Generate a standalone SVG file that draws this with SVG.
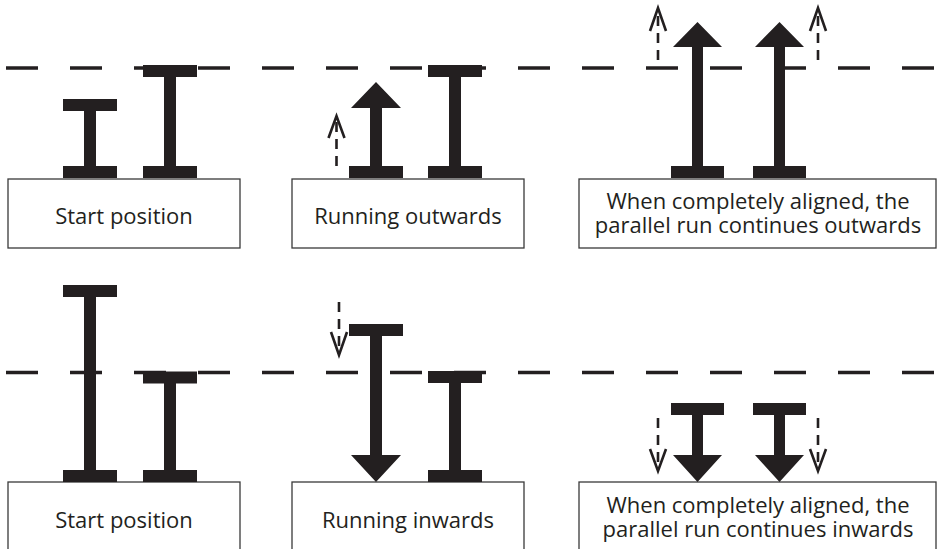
<svg xmlns="http://www.w3.org/2000/svg" width="937" height="549" viewBox="0 0 937 549">
<defs>
<style>
.bg{fill:#ffffff}
.box{fill:#ffffff;stroke:#3a3a3a;stroke-width:1.3}
.beam{fill:#231f20}
.lbl{font-family:"Open Sans","Noto Sans","Liberation Sans",sans-serif;font-size:22px;fill:#231f20;text-anchor:middle}
.ref{stroke:#231f20;stroke-width:3.5;stroke-dasharray:32 32;fill:none}
.mv{stroke:#231f20;stroke-width:2.6;stroke-dasharray:10 7;fill:none}
.chev{stroke:#231f20;stroke-width:2.6;fill:none;stroke-linejoin:miter}
</style>
</defs>
<rect class="bg" x="0" y="0" width="937" height="549"/>

<g id="guides">
<line class="ref" x1="6" y1="68" x2="937" y2="68"/>
<line class="ref" x1="6" y1="372.5" x2="937" y2="372.5"/>
</g>

<!-- Top row -->
<g id="box-start-top">
<rect class="box" x="8" y="179" width="232" height="69"/>
<text class="lbl" x="124" y="224">Start position</text>
</g>
<g id="beam-top-1">
<path class="beam" d="M63,99H117V111H96V166H117V178H63V166H84V111H63Z"/>
</g>
<g id="beam-top-2">
<path class="beam" d="M143,65H197V77H176V166H197V178H143V166H164V77H143Z"/>
</g>

<g id="box-outwards">
<rect class="box" x="292" y="179" width="232" height="69"/>
<text class="lbl" x="408" y="224">Running outwards</text>
</g>
<g id="arrow-out-1">
<path class="beam" d="M349,166H370V108H351L376,82L401,108H382V166H403V178H349Z"/>
</g>
<g id="beam-out-2">
<path class="beam" d="M428,65H482V77H461V166H482V178H428V166H449V77H428Z"/>
</g>

<g id="box-aligned-out">
<rect class="box" x="579" y="179" width="357" height="69"/>
<text class="lbl"><tspan x="758" y="209">When completely aligned, the</tspan><tspan x="758" y="233">parallel run continues outwards</tspan></text>
</g>
<g id="arrow-aligned-out-1">
<path class="beam" d="M671,166H692V47H673L697.5,22L722,47H703V166H724V178H671Z"/>
</g>
<g id="arrow-aligned-out-2">
<path class="beam" d="M753,166H774V47H755L779.5,22L804,47H785V166H806V178H753Z"/>
</g>

<!-- Bottom row -->
<g id="box-start-bottom">
<rect class="box" x="8" y="482" width="232" height="80"/>
<text class="lbl" x="124" y="528">Start position</text>
</g>
<g id="beam-bot-1">
<path class="beam" d="M63,285H117V297H96V470H117V482H63V470H84V297H63Z"/>
</g>
<g id="beam-bot-2">
<path class="beam" d="M143,371.5H197V383.5H176V470H197V482H143V470H164V383.5H143Z"/>
</g>

<g id="box-inwards">
<rect class="box" x="292" y="482" width="232" height="80"/>
<text class="lbl" x="408" y="528">Running inwards</text>
</g>
<g id="arrow-in-1">
<path class="beam" d="M349,324H403V336H382V455H401L376,482L351,455H370V336H349Z"/>
</g>
<g id="beam-in-2">
<path class="beam" d="M428,371H482V383H461V470H482V482H428V470H449V383H428Z"/>
</g>

<g id="box-aligned-in">
<rect class="box" x="579" y="482" width="357" height="80"/>
<text class="lbl"><tspan x="758" y="513">When completely aligned, the</tspan><tspan x="758" y="537">parallel run continues inwards</tspan></text>
</g>
<g id="arrow-aligned-in-1">
<path class="beam" d="M671,403H724V415H703V455H722L697.5,482L673,455H692V415H671Z"/>
</g>
<g id="arrow-aligned-in-2">
<path class="beam" d="M753,403H806V415H785V455H804L779.5,482L755,455H774V415H753Z"/>
</g>

<g id="connectors">
<line class="mv" x1="336.5" y1="166" x2="336.5" y2="118"/>
<polyline class="chev" points="328.5,138 336.5,116 344.5,138"/>
<line class="mv" x1="658" y1="60" x2="658" y2="9"/>
<polyline class="chev" points="650,31 658,8 666,31"/>
<line class="mv" x1="818" y1="60" x2="818" y2="9"/>
<polyline class="chev" points="810,31 818,8 826,31"/>
<line class="mv" x1="339" y1="302" x2="339" y2="353"/>
<polyline class="chev" points="331,332 339,355 347,332"/>
<line class="mv" x1="658" y1="418" x2="658" y2="469"/>
<polyline class="chev" points="650,449 658,471 666,449"/>
<line class="mv" x1="818" y1="418" x2="818" y2="469"/>
<polyline class="chev" points="810,449 818,471 826,449"/>
</g>
</svg>
